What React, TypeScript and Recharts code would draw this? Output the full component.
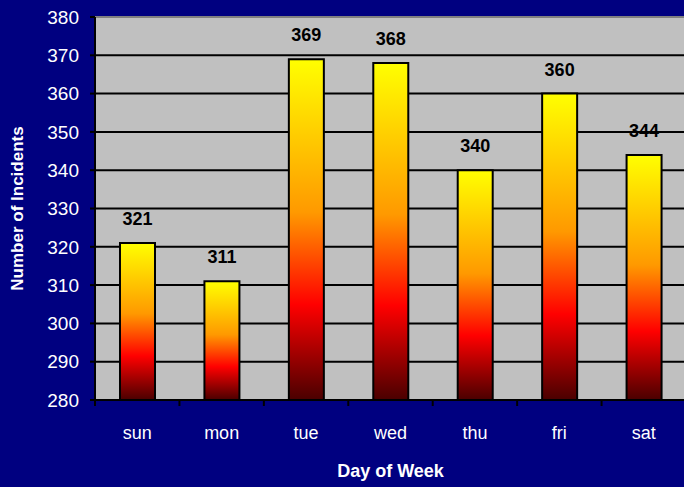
import React from 'react'
import {
  BarChart, Bar, XAxis, YAxis, CartesianGrid, LabelList, ReferenceLine,
} from 'recharts'

const days = ['sun', 'mon', 'tue', 'wed', 'thu', 'fri', 'sat']
const incidents = [321, 311, 369, 368, 340, 360, 344]
const yTicks = [280, 290, 300, 310, 320, 330, 340, 350, 360, 370, 380]

const data = days.map((day, i) => ({ day, incidents: incidents[i] }))

const FONT = 'Arial, "Liberation Sans", sans-serif'
const TICK_GAP = 26

// category label plus the little boundary tick marks Excel draws between categories
function DayTick(props: any) {
  const { x, y, payload, index, visibleTicksCount } = props
  const half = payload && payload.offset ? payload.offset : 42.2
  const axisY = y - TICK_GAP
  return (
    <g>
      <line x1={x - half} x2={x - half} y1={axisY} y2={axisY + 6} stroke="#000" strokeWidth={2} />
      {index === visibleTicksCount - 1 && (
        <line x1={x + half} x2={x + half} y1={axisY} y2={axisY + 6} stroke="#000" strokeWidth={2} />
      )}
      <text x={x} y={y + 13} textAnchor="middle" fill="#fff" fontSize={18} fontFamily={FONT}>
        {payload.value}
      </text>
    </g>
  )
}

export default function App() {
  return (
    <div style={{ position: 'absolute', left: 0, top: 0, width: 684, height: 487, background: '#000080', fontFamily: FONT }}>
      <BarChart
        width={684}
        height={487}
        data={data}
        margin={{ top: 17, right: -2, bottom: 0, left: 0 }}
        barSize={35}
      >
        <defs>
          <linearGradient id="fire" x1="0" y1="0" x2="0" y2="1">
            <stop offset="0%" stopColor="#FFFF00" />
            <stop offset="45%" stopColor="#FF9900" />
            <stop offset="72%" stopColor="#FF0000" />
            <stop offset="100%" stopColor="#4A0000" />
          </linearGradient>
        </defs>
        <CartesianGrid fill="#C0C0C0" stroke="#000" strokeWidth={2} vertical={false} />
        <ReferenceLine y={380} stroke="#808080" strokeWidth={2} />
        <XAxis
          dataKey="day"
          height={87}
          tickLine={false}
          tickSize={0}
          tickMargin={TICK_GAP}
          axisLine={{ stroke: '#000', strokeWidth: 2 }}
          tick={<DayTick />}
          interval={0}
          label={{ value: 'Day of Week', position: 'insideBottom', offset: 10, fill: '#fff', fontSize: 18, fontWeight: 'bold', fontFamily: FONT }}
        />
        <YAxis
          width={95}
          domain={[280, 380]}
          ticks={yTicks}
          interval={0}
          tickSize={5}
          tickMargin={11}
          axisLine={{ stroke: '#000', strokeWidth: 2 }}
          tickLine={{ stroke: '#000', strokeWidth: 2 }}
          tick={{ fill: '#fff', fontSize: 19, fontFamily: FONT }}
          label={{ value: 'Number of Incidents', angle: -90, position: 'insideLeft', offset: 17, fill: '#fff', fontSize: 17, fontWeight: 'bold', fontFamily: FONT, style: { textAnchor: 'middle' } }}
        />
        <Bar dataKey="incidents" fill="url(#fire)" stroke="#000" strokeWidth={2} isAnimationActive={false}>
          <LabelList dataKey="incidents" position="top" offset={18} fill="#000" fontSize={18} fontWeight="bold" fontFamily={FONT} />
        </Bar>
      </BarChart>
    </div>
  )
}
